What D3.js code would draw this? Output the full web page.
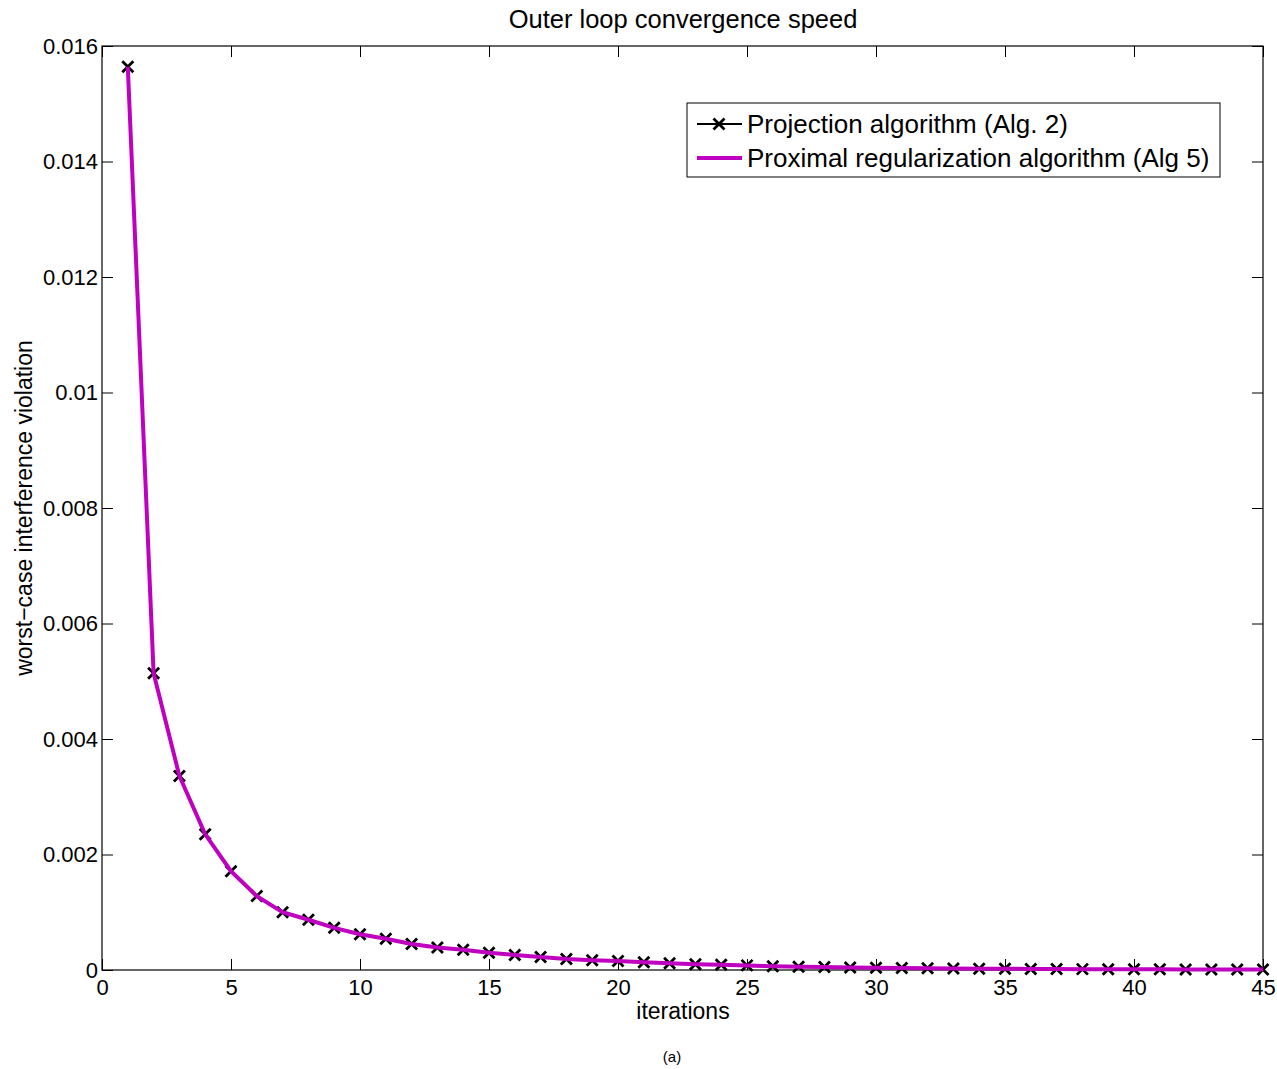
<!DOCTYPE html>
<html><head><meta charset="utf-8">
<script src="https://cdn.jsdelivr.net/npm/d3@7"></script>
<style>body{margin:0;background:#fff;}svg{display:block;font-family:"Liberation Sans",Arial,sans-serif;}</style>
</head><body>
<svg id="c" width="1277" height="1069"></svg>
<script>
const iterations = d3.range(1, 46);
const projection = [15.64,5.14,3.36,2.35,1.71,1.28,1.00,0.87,0.73,0.62,0.54,0.45,0.39,0.35,0.30,0.26,0.225,0.19,0.17,0.155,0.133,0.115,0.10,0.09,0.08,0.065,0.058,0.05,0.044,0.038,0.033,0.029,0.026,0.023,0.021,0.019,0.017,0.015,0.013,0.012,0.011,0.010,0.009,0.008,0.007].map(v => v * 1e-3);
const proximal = projection.slice();
const xTicks = [0,5,10,15,20,25,30,35,40,45];
const yTicks = [0,0.002,0.004,0.006,0.008,0.01,0.012,0.014,0.016];
const yTickLabels = ["0","0.002","0.004","0.006","0.008","0.01","0.012","0.014","0.016"];

const svg = d3.select("#c");
const L = 102, R = 1263, T = 46, B = 970;
const x = d3.scaleLinear().domain([0,45]).range([L,R]);
const y = d3.scaleLinear().domain([0,0.016]).range([B,T]);
const tl = 11;

svg.append("rect").attr("x",L).attr("y",T).attr("width",R-L).attr("height",B-T)
  .attr("fill","none").attr("stroke","#000").attr("stroke-width",1.2);

const axB = svg.append("g").attr("transform",`translate(0,${B})`)
  .call(d3.axisBottom(x).tickValues(xTicks).tickSize(-tl).tickPadding(9).tickFormat(d3.format("d")));
const axT = svg.append("g").attr("transform",`translate(0,${T})`)
  .call(d3.axisTop(x).tickValues(xTicks).tickSize(-tl).tickFormat(""));
const axL = svg.append("g").attr("transform",`translate(${L},0)`)
  .call(d3.axisLeft(y).tickValues(yTicks).tickSize(-tl).tickPadding(4).tickFormat((d,i)=>yTickLabels[i]));
const axR = svg.append("g").attr("transform",`translate(${R},0)`)
  .call(d3.axisRight(y).tickValues(yTicks).tickSize(-tl).tickFormat(""));
[axB,axT,axL,axR].forEach(a=>{
  a.select(".domain").remove();
  a.selectAll("line").attr("stroke","#000").attr("stroke-width",1);
  a.selectAll("text").attr("font-size",22).attr("fill","#000").attr("font-family","Liberation Sans, Arial, sans-serif");
});

const line = d3.line().x((d,i)=>x(iterations[i])).y(d=>y(d));
svg.append("path").datum(projection).attr("d",line).attr("fill","none").attr("stroke","#000").attr("stroke-width",2);
const ms = 5.5;
svg.append("g").selectAll("path").data(projection).join("path")
  .attr("d",(d,i)=>{const cx=x(iterations[i]),cy=y(d);return `M${cx-ms},${cy-ms}L${cx+ms},${cy+ms}M${cx-ms},${cy+ms}L${cx+ms},${cy-ms}`;})
  .attr("stroke","#000").attr("stroke-width",2.8).attr("fill","none");
svg.append("path").datum(proximal).attr("d",line).attr("fill","none").attr("stroke","#c000c0").attr("stroke-width",4);

svg.append("text").attr("x",683).attr("y",28).attr("text-anchor","middle").attr("font-size",25.5).text("Outer loop convergence speed");
svg.append("text").attr("x",683).attr("y",1019).attr("text-anchor","middle").attr("font-size",23).text("iterations");
svg.append("text").attr("transform","translate(32,508) rotate(-90)").attr("text-anchor","middle").attr("font-size",23).text("worst\u2212case interference violation");
svg.append("text").attr("x",672).attr("y",1062).attr("text-anchor","middle").attr("font-size",15).text("(a)");

const lg = svg.append("g");
lg.append("rect").attr("x",687).attr("y",103).attr("width",533).attr("height",74).attr("fill","#fff").attr("stroke","#000").attr("stroke-width",1);
lg.append("line").attr("x1",697).attr("x2",742).attr("y1",124).attr("y2",124).attr("stroke","#000").attr("stroke-width",2);
lg.append("path").attr("d",`M${719-ms},${124-ms}L${719+ms},${124+ms}M${719-ms},${124+ms}L${719+ms},${124-ms}`).attr("stroke","#000").attr("stroke-width",2.8);
lg.append("line").attr("x1",697).attr("x2",742).attr("y1",158).attr("y2",158).attr("stroke","#c000c0").attr("stroke-width",4);
lg.append("text").attr("x",747).attr("y",133).attr("font-size",26).text("Projection algorithm (Alg. 2)");
lg.append("text").attr("x",747).attr("y",167).attr("font-size",26).text("Proximal regularization algorithm (Alg 5)");
</script>
</body></html>
